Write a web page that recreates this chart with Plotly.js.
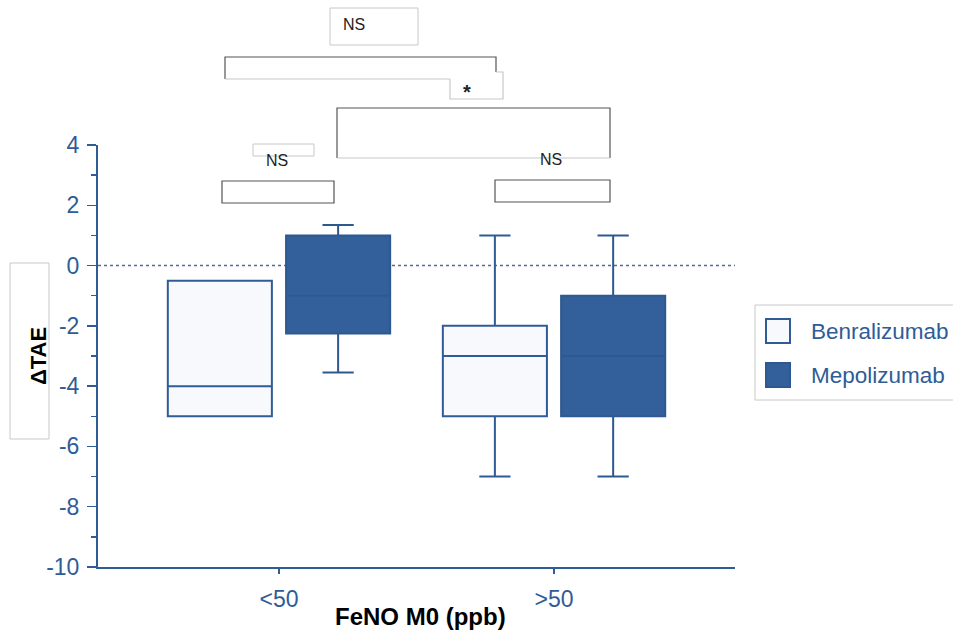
<!DOCTYPE html>
<html>
<head>
<meta charset="utf-8">
<script src="https://cdn.plot.ly/plotly-3.0.1.min.js"></script>
<style>html,body{margin:0;padding:0;background:#fff;}#chart{width:953px;height:635px;}</style>
</head>
<body>
<div id="chart"></div>
<script>
// ---- Data ----
var categories = ['<50', '>50'];
var seriesNames = ['Benralizumab', 'Mepolizumab'];
var benraLower  = [-5, -7];
var benraQ1     = [-5, -5];
var benraMedian = [-4, -3];
var benraQ3     = [-0.5, -2];
var benraUpper  = [-0.5, 1];
var mepoLower   = [-3.55, -7];
var mepoQ1      = [-2.25, -5];
var mepoMedian  = [-1, -3];
var mepoQ3      = [1, -1];
var mepoUpper   = [1.35, 1];
var yTickVals   = [-10, -8, -6, -4, -2, 0, 2, 4];
var sigLabels   = ['NS', '*', 'NS', 'NS'];

// ---- Styling ----
var FONT = 'Liberation Sans, Arial, Helvetica, sans-serif';
var BLUE = '#2f5c96';
var FILL_DARK = '#33609a';
var FILL_LIGHT = '#f7f9fc';
var L = 98, R = 218, T = 145, B = 68, W = 953, H = 635;
var PW = W - L - R, PH = H - T - B;
function px(x) { return (x - L) / PW; }
function py(y) { return (H - B - y) / PH; }
function path(pts) {
  return pts.map(function (p, i) { return (i ? 'L' : 'M') + px(p[0]).toFixed(5) + ',' + py(p[1]).toFixed(5); }).join(' ');
}

var traces = [
  {
    type: 'box', name: seriesNames[0], x: categories,
    q1: benraQ1, median: benraMedian, q3: benraQ3,
    lowerfence: benraLower, upperfence: benraUpper,
    boxpoints: false, whiskerwidth: 0.3,
    fillcolor: FILL_LIGHT, line: {color: BLUE, width: 2},
    showlegend: false, hoverinfo: 'skip'
  },
  {
    type: 'box', name: seriesNames[1], x: categories,
    q1: mepoQ1, median: mepoMedian, q3: mepoQ3,
    lowerfence: mepoLower, upperfence: mepoUpper,
    boxpoints: false, whiskerwidth: 0.3,
    fillcolor: FILL_DARK, line: {color: '#2d5990', width: 2},
    showlegend: false, hoverinfo: 'skip'
  }
];

var DARK = '#555555', LIGHT = '#c8c8c8';
var shapes = [
  // zero reference line
  {type: 'line', xref: 'paper', yref: 'y', x0: 0, x1: 1, y0: 0, y1: 0,
   line: {color: '#4f6d92', width: 1.5, dash: 'dot'}, layer: 'below'},
  // top NS box
  {type: 'rect', xref: 'paper', yref: 'paper', x0: px(330), x1: px(418), y0: py(8), y1: py(45),
   line: {color: LIGHT, width: 1}, fillcolor: 'rgba(0,0,0,0)'},
  // long bracket (<50 Benra vs >50 Benra)
  {type: 'path', xref: 'paper', yref: 'paper', path: path([[225,79],[225,57],[496,57],[496,72]]),
   line: {color: DARK, width: 1.2}},
  {type: 'path', xref: 'paper', yref: 'paper', path: path([[225,79],[450,79]]),
   line: {color: LIGHT, width: 1.2}},
  // star box
  {type: 'path', xref: 'paper', yref: 'paper', path: path([[450,79],[450,99],[503,99],[503,72],[496,72]]),
   line: {color: LIGHT, width: 1.2}},
  // right big bracket
  {type: 'path', xref: 'paper', yref: 'paper', path: path([[337,158],[337,108],[610,108],[610,158]]),
   line: {color: DARK, width: 1.2}},
  {type: 'path', xref: 'paper', yref: 'paper', path: path([[337,158],[610,158]]),
   line: {color: LIGHT, width: 1.2}},
  // small NS box left
  {type: 'rect', xref: 'paper', yref: 'paper', x0: px(253), x1: px(314), y0: py(144), y1: py(156),
   line: {color: LIGHT, width: 1}, fillcolor: 'rgba(0,0,0,0)'},
  // left small bracket
  {type: 'rect', xref: 'paper', yref: 'paper', x0: px(222), x1: px(334), y0: py(181), y1: py(203),
   line: {color: DARK, width: 1.2}, fillcolor: 'rgba(0,0,0,0)'},
  // right small bracket
  {type: 'rect', xref: 'paper', yref: 'paper', x0: px(495), x1: px(610), y0: py(180), y1: py(202),
   line: {color: DARK, width: 1.2}, fillcolor: 'rgba(0,0,0,0)'},
  // y title box
  {type: 'rect', xref: 'paper', yref: 'paper', x0: px(10), x1: px(49), y0: py(263), y1: py(439),
   line: {color: LIGHT, width: 1}, fillcolor: 'rgba(0,0,0,0)'},
  // legend border
  {type: 'rect', xref: 'paper', yref: 'paper', x0: px(755), x1: px(960), y0: py(305), y1: py(400),
   line: {color: LIGHT, width: 1}, fillcolor: 'rgba(0,0,0,0)'},
  // legend swatches
  {type: 'rect', xref: 'paper', yref: 'paper', x0: px(766), x1: px(790), y0: py(319), y1: py(343),
   line: {color: BLUE, width: 2}, fillcolor: FILL_LIGHT},
  {type: 'rect', xref: 'paper', yref: 'paper', x0: px(766), x1: px(790), y0: py(363), y1: py(387),
   line: {color: '#2d5990', width: 2}, fillcolor: FILL_DARK}
];

function ann(text, x, y, opts) {
  var a = {text: text, xref: 'paper', yref: 'paper', x: px(x), y: py(y), showarrow: false,
           xanchor: 'center', yanchor: 'middle', font: {family: FONT, size: 16, color: '#222'}};
  for (var k in opts) a[k] = opts[k];
  return a;
}
var annotations = [
  ann(sigLabels[0], 354, 25, {}),
  ann('<b>' + sigLabels[1] + '</b>', 467, 92, {font: {family: FONT, size: 20, color: '#222'}}),
  ann(sigLabels[2], 277, 160, {}),
  ann(sigLabels[3], 551, 159, {}),
  ann('<b>ΔTAE</b>', 38, 356, {textangle: -90, font: {family: FONT, size: 22, color: '#000'}}),
  ann('<b>FeNO M0 (ppb)</b>', 420, 616, {font: {family: FONT, size: 24, color: '#000'}}),
  ann(seriesNames[0], 809, 331, {xanchor: 'left', font: {family: FONT, size: 22.5, color: BLUE}}),
  ann(seriesNames[1], 809, 375, {xanchor: 'left', font: {family: FONT, size: 22.5, color: BLUE}})
];

var layout = {
  width: W, height: H,
  margin: {l: L, r: R, t: T, b: B, pad: 0},
  paper_bgcolor: '#ffffff', plot_bgcolor: '#ffffff',
  showlegend: false,
  boxmode: 'group', boxgap: 0.14, boxgroupgap: 0.12,
  font: {family: FONT, color: BLUE},
  xaxis: {
    type: 'category', categoryarray: categories, range: [-0.658, 1.658],
    showgrid: false, zeroline: false, showline: true, linecolor: BLUE, linewidth: 2,
    ticks: 'outside', ticklen: 5, tickwidth: 1.5, tickcolor: BLUE,
    tickfont: {family: FONT, size: 23, color: BLUE}, ticklabelstandoff: 5,
    fixedrange: true
  },
  yaxis: {
    range: [-10, 4], tickvals: yTickVals, ticktext: yTickVals.map(String),
    showgrid: false, zeroline: false, showline: true, linecolor: BLUE, linewidth: 2,
    ticks: 'outside', ticklen: 9, tickwidth: 1.5, tickcolor: BLUE,
    minor: {dtick: 1, tick0: 0, ticks: 'outside', ticklen: 5, tickwidth: 1.5, tickcolor: BLUE, showgrid: false},
    tickfont: {family: FONT, size: 23, color: BLUE}, ticklabelstandoff: 3,
    fixedrange: true
  },
  shapes: shapes,
  annotations: annotations
};

Plotly.newPlot('chart', traces, layout, {displayModeBar: false, staticPlot: true});
</script>
</body>
</html>
